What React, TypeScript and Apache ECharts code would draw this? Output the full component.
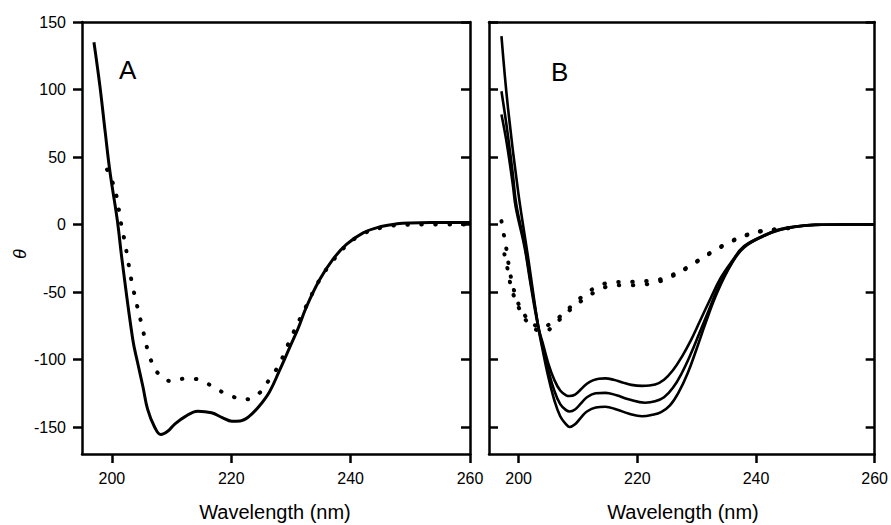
import React, { useEffect, useRef } from "react";
import * as echarts from "echarts";

// Panel A
const aSolidX = [197, 198, 198.9, 199.7, 200.9, 201.7, 203.5, 204.3, 205.2, 206, 207.1, 208.2, 209.4, 210.5, 212.2, 214.4, 216.7, 218.5, 220.1, 221.5, 222.9, 224.6, 226.4, 228, 229.8, 231.2, 232.6, 234.8, 237, 239.3, 242.1, 244.9, 247.8, 250, 253.4, 260];
const aSolidY = [135, 102.5, 68, 38.5, 3.7, -26, -85, -102, -120, -137, -149.4, -155.6, -153, -148, -142.5, -138.3, -139.5, -143, -145.7, -145.5, -142.5, -135, -124, -109, -91, -77, -61, -41, -26, -14.8, -6.2, -1.7, 0.5, 1.2, 1.5, 1.5];

const aDotX = [199.2, 200.3, 200.9, 201.3, 201.7, 202.2, 202.6, 203.5, 205.2, 205.7, 206.5, 207.7, 209.9, 212.5, 215, 217.2, 219.7, 222.3, 224.8, 226.5, 228, 230, 232.5, 234.8, 237, 239.3, 242, 245, 248, 252, 260];
const aDotY = [40.7, 29, 18.5, 7.4, -3, -13.5, -24, -46, -78, -88, -100, -110, -116, -114, -115.5, -121, -126.5, -129.6, -124.5, -114, -104, -84, -61, -41, -27, -15.5, -7, -2.5, -0.5, 0, 0];

// Panel B – three solid traces
const b1X = [197.1, 198.2, 199.9, 201.6, 203.3, 204, 205, 206, 207, 208, 208.6, 209.5, 210.5, 211.5, 213, 214.6, 216.5, 218.5, 220.8, 222.5, 224, 225.5, 227, 228.5, 230, 231.5, 233.5, 235.9, 238, 241.6, 244, 247, 250, 255, 260];
const b1Y = [139.5, 86.4, 24.7, -24.7, -76, -92, -113, -130, -142, -148, -150, -148, -143, -138.5, -135.5, -135, -137, -140, -142, -141, -139, -134, -124, -110, -92, -73, -50, -29, -17, -8, -4, -1.5, -0.3, 0, 0];
const b2X = [197.1, 198, 199, 199.6, 201, 202, 203.3, 204, 205, 206, 207, 208, 208.6, 209.5, 210.5, 211.5, 213, 214.6, 216.5, 218.5, 221.3, 223, 224.5, 226, 227.5, 229, 230.5, 232, 233.5, 235.9, 238, 241.6, 244, 247, 250, 255, 260];
const b2Y = [98.7, 72, 38, 15, -15, -42, -75, -90, -108, -123, -133, -137.5, -138.5, -137, -132.5, -128, -125, -124.7, -126.5, -129.5, -132, -131, -128, -121, -110, -96, -80, -64, -48, -28.5, -16.5, -7.8, -3.8, -1.4, -0.3, 0, 0];
const b3X = [197.1, 198, 199, 199.5, 201, 202, 203.3, 204, 205, 206, 207, 208, 208.6, 209.5, 210.5, 211.5, 212.5, 213.5, 214.6, 216, 217.5, 219, 220.8, 223, 224.5, 226, 227.5, 229, 230.5, 232, 234, 235.9, 238, 241.6, 244, 247, 250, 255, 260];
const b3Y = [81.5, 60, 30, 13, -17, -44, -76, -87, -103, -115, -123, -126.5, -127, -126, -122, -118, -115.5, -114.3, -114, -115, -117, -118.8, -119.5, -118.5, -115, -108, -98, -86, -72, -58, -40, -27.5, -16, -7.5, -3.5, -1.3, -0.2, 0, 0];

// Panel B – two dotted traces
const bd1X = [197.1, 197.6, 198, 198.4, 199, 199.8, 201, 202.5, 204, 205.5, 207, 209, 211.4, 213.8, 216.1, 218.6, 221.1, 223.5, 225.8, 228.3, 230.8, 233.2, 235.7, 238.2, 240.7, 243, 245.4, 247.5];
const bd1Y = [2.5, -10, -20, -32, -45, -57, -67, -74, -76, -73, -68, -60, -51, -45, -42.5, -42.5, -42, -41, -37.5, -32, -25, -18.5, -12.6, -8, -5, -3.7, -2.7, -1.7];
const bd2X = [197.6, 198, 198.5, 199.2, 200.3, 201.6, 203, 204.5, 206, 207.5, 209, 211.4, 213.8, 216.1, 218.6, 221.1, 223.5, 225.8, 228.3, 230.8, 233.2, 235.7, 238.2, 240.7, 243, 245.4];
const bd2Y = [-22, -30, -42, -53, -64, -73, -78, -79, -74, -68, -62, -54, -48, -45, -45, -44.5, -42.5, -38.5, -32.5, -25.5, -19, -13, -8.3, -5.2, -3.8, -2.8];

const xTicks = [200, 220, 240, 260];
const yTicks = [-150, -100, -50, 0, 50, 100, 150];

const pair = (xs: number[], ys: number[]) => xs.map((x, i) => [x, ys[i]]);

const FONT = "Liberation Sans, Arial, Helvetica, sans-serif";

export default function App() {
  const ref = useRef<HTMLDivElement>(null);
  useEffect(() => {
    if (!ref.current) return;
    const chart = echarts.init(ref.current, null, { renderer: "svg" });
    const axisLine = { show: true, onZero: false, lineStyle: { color: "#000", width: 2.5 } };
    const xBottom = (g: number) => ({
      type: "value", gridIndex: g, position: "bottom", min: 195, max: 260,
      axisLine,
      axisTick: { show: true, inside: false, length: 9, lineStyle: { color: "#000", width: 2.5 }, customValues: xTicks },
      axisLabel: { show: true, color: "#000", fontSize: 16, fontFamily: FONT, margin: 16, customValues: xTicks },
      splitLine: { show: false },
    });
    const xTop = (g: number) => ({
      type: "value", gridIndex: g, position: "top", min: 195, max: 260,
      axisLine, axisTick: { show: false }, axisLabel: { show: false }, splitLine: { show: false },
    });
    const yAxis = (g: number, pos: string, inside: boolean, labels: boolean) => ({
      type: "value", gridIndex: g, position: pos, min: -170, max: 150,
      axisLine,
      axisTick: { show: true, inside, length: 9, lineStyle: { color: "#000", width: 2.5 }, customValues: yTicks },
      axisLabel: { show: labels, color: "#000", fontSize: 16, fontFamily: FONT, margin: 16, customValues: yTicks },
      splitLine: { show: false },
    });
    const solid = (name: string, x: number, y: number, data: number[][], w: number) => ({
      name, type: "line", xAxisIndex: x, yAxisIndex: y, data, showSymbol: false, smooth: 0.4,
      lineStyle: { color: "#000", width: w }, z: 3,
    });
    const dotted = (name: string, x: number, y: number, data: number[][]) => ({
      name, type: "line", xAxisIndex: x, yAxisIndex: y, data, showSymbol: false, smooth: 0.4,
      lineStyle: { color: "#000", width: 4, type: [0.5, 13.5], cap: "round" }, z: 2,
    });
    chart.setOption({
      animation: false,
      backgroundColor: "#fff",
      grid: [
        { left: 82, top: 22, width: 388, height: 432 },
        { left: 489, top: 22, width: 388, height: 432 },
      ],
      xAxis: [xBottom(0), xTop(0), xBottom(1), xTop(1)],
      yAxis: [yAxis(0, "left", false, true), yAxis(0, "right", true, false), yAxis(1, "left", true, false), yAxis(1, "right", true, false)],
      series: [
        dotted("A dotted", 0, 0, pair(aDotX, aDotY)),
        solid("A solid", 0, 0, pair(aSolidX, aSolidY), 3),
        dotted("B dotted 1", 2, 2, pair(bd1X, bd1Y)),
        dotted("B dotted 2", 2, 2, pair(bd2X, bd2Y)),
        solid("B solid 1", 2, 2, pair(b1X, b1Y), 2.6),
        solid("B solid 2", 2, 2, pair(b2X, b2Y), 2.6),
        solid("B solid 3", 2, 2, pair(b3X, b3Y), 2.6),
      ],
      graphic: [
        { type: "text", left: 119, top: 57, style: { text: "A", font: `26px ${FONT}`, fill: "#000" } },
        { type: "text", left: 551, top: 59, style: { text: "B", font: `26px ${FONT}`, fill: "#000" } },
        { type: "text", x: 20, y: 254, rotation: Math.PI / 2, style: { text: "θ", font: `italic 18px ${FONT}`, fill: "#000", align: "center", verticalAlign: "middle" } },
        { type: "text", x: 275, y: 512, style: { text: "Wavelength (nm)", font: `20px ${FONT}`, fill: "#000", align: "center", verticalAlign: "middle" } },
        { type: "text", x: 683, y: 512, style: { text: "Wavelength (nm)", font: `20px ${FONT}`, fill: "#000", align: "center", verticalAlign: "middle" } },
      ],
    });
    return () => chart.dispose();
  }, []);
  return <div ref={ref} style={{ width: 891, height: 525, position: "absolute", left: 0, top: 0 }} />;
}
